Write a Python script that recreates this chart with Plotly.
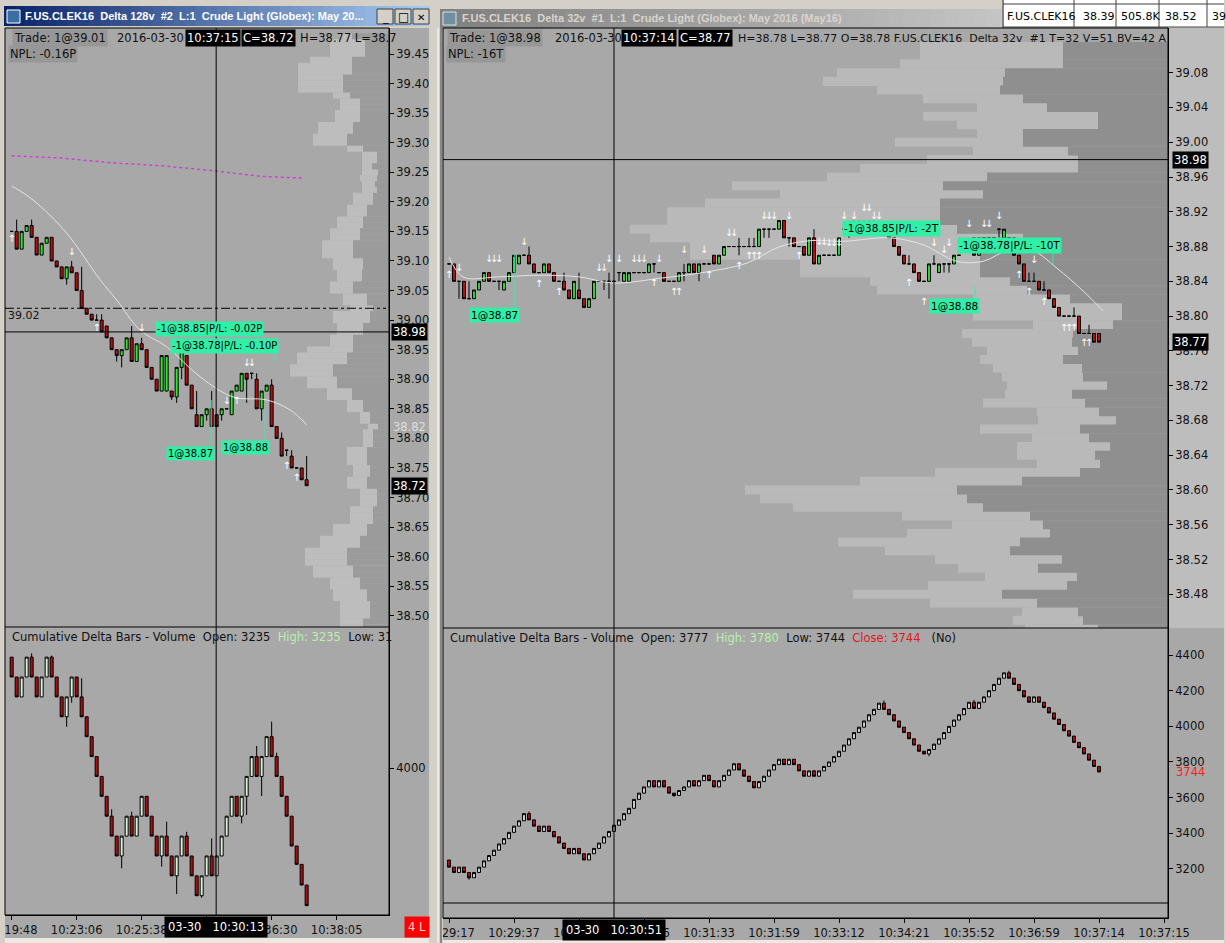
import plotly.graph_objects as go

W, H = 1226, 943
FONT = "DejaVu Sans"
PANEL = "#a8a8a8"
CHROME = "#d4d0c8"
NB = "\u00a0"


def fx(px):
    return px / W


def fy(py):
    return 1 - py / H


# ---------------- left window: F.US.CLEK16 Delta 128v ----------------
l_open = [39.15, 39.15, 39.12, 39.15, 39.16, 39.14, 39.11, 39.13, 39.14, 39.10,
          39.09, 39.07, 39.09, 39.08, 39.05, 39.02, 39.01, 39.00, 39.00, 38.99,
          38.97, 38.95, 38.94, 38.95, 38.97, 38.93, 38.96, 38.95, 38.92, 38.90,
          38.88, 38.88, 38.88, 38.87, 38.92, 38.94, 38.89, 38.84, 38.82, 38.84,
          38.85, 38.84, 38.84, 38.85, 38.84, 38.88, 38.88, 38.91, 38.91, 38.90,
          38.85, 38.88, 38.89, 38.82, 38.80, 38.78, 38.77, 38.75, 38.75, 38.73]
l_high = [39.15, 39.17, 39.15, 39.16, 39.17, 39.14, 39.13, 39.14, 39.14, 39.10,
          39.09, 39.09, 39.10, 39.08, 39.09, 39.02, 39.01, 39.01, 39.01, 38.99,
          38.97, 38.95, 38.95, 38.97, 38.99, 38.96, 38.97, 38.95, 38.92, 38.90,
          38.94, 38.94, 38.88, 38.92, 38.95, 38.94, 38.89, 38.88, 38.84, 38.85,
          38.88, 38.84, 38.85, 38.85, 38.88, 38.89, 38.91, 38.91, 38.91, 38.91,
          38.88, 38.89, 38.90, 38.82, 38.81, 38.78, 38.78, 38.75, 38.75, 38.77]
l_low = [39.15, 39.12, 39.12, 39.15, 39.14, 39.11, 39.11, 39.13, 39.10, 39.09,
         39.07, 39.06, 39.08, 39.05, 39.02, 39.01, 39.00, 39.00, 38.98, 38.97,
         38.95, 38.93, 38.92, 38.95, 38.93, 38.93, 38.95, 38.92, 38.90, 38.88,
         38.88, 38.88, 38.865, 38.86, 38.90, 38.89, 38.85, 38.82, 38.82, 38.83,
         38.82, 38.82, 38.83, 38.85, 38.84, 38.88, 38.88, 38.86, 38.90, 38.85,
         38.83, 38.88, 38.82, 38.80, 38.77, 38.77, 38.75, 38.75, 38.73, 38.72]
l_close = [39.15, 39.12, 39.15, 39.16, 39.14, 39.11, 39.13, 39.14, 39.10, 39.09,
           39.07, 39.09, 39.08, 39.05, 39.02, 39.01, 39.00, 39.00, 38.98, 38.97,
           38.95, 38.94, 38.95, 38.97, 38.93, 38.96, 38.95, 38.92, 38.90, 38.88,
           38.94, 38.94, 38.87, 38.92, 38.95, 38.89, 38.85, 38.82, 38.84, 38.85,
           38.82, 38.82, 38.85, 38.85, 38.88, 38.89, 38.91, 38.90, 38.91, 38.85,
           38.88, 38.89, 38.82, 38.80, 38.77, 38.78, 38.75, 38.75, 38.73, 38.72]

# cumulative delta bars (left)
lcd_open = [4725, 4595, 4465, 4595, 4725, 4595, 4465, 4595, 4725, 4595,
            4465, 4335, 4465, 4595, 4465, 4335, 4205, 4075, 3945, 3815,
            3685, 3555, 3425, 3555, 3685, 3555, 3685, 3815, 3685, 3555,
            3425, 3555, 3425, 3295, 3425, 3555, 3425, 3295, 3165, 3295,
            3425, 3295, 3425, 3555, 3685, 3815, 3685, 3815, 3945, 4075,
            3945, 4075, 4205, 4075, 3945, 3815, 3685, 3490, 3370, 3235]
lcd_close = [4595, 4465, 4595, 4725, 4595, 4465, 4595, 4725, 4595, 4465,
             4335, 4465, 4595, 4465, 4335, 4205, 4075, 3945, 3815, 3685,
             3555, 3425, 3555, 3685, 3555, 3685, 3815, 3685, 3555, 3425,
             3555, 3425, 3295, 3425, 3555, 3425, 3295, 3165, 3295, 3425,
             3295, 3425, 3555, 3685, 3815, 3685, 3815, 3945, 4075, 3945,
             4075, 4205, 4075, 3945, 3815, 3685, 3490, 3370, 3235, 3100]
lcd_wick_hi = {4: 4750, 8: 4735, 14: 4587, 20: 3730, 24: 3714, 31: 3649,
               35: 3583, 40: 3540, 49: 4144, 52: 4303, 53: 4100}
lcd_wick_lo = {11: 4270, 12: 4427, 22: 3344, 30: 3355, 33: 3176, 38: 3152,
               46: 3638, 47: 3693, 50: 3817}

# volume profile (left), rows of 0.01 from 39.48 down
l_prof_top = 39.48
l_prof_light = [12, 35, 35, 35, 42, 54, 54, 45, 45, 45,
                17, 20, 20, 25, 25, 35, 35, 34, 34, 16,
                15, 15, 10, 16, 17, 13, 15, 20, 20, 20,
                20, 26, 26, 30, 30, 31, 31, 31, 30, 30,
                25, 25, 23, 23, 24, 24, 23, 37, 37, 26,
                26, 23, 23, 46, 50, 50, 43, 43, 30, 30,
                25, 25, 16, 16, 10, 10, 10, 10, 10, 10,
                20, 20, 20, 17, 17, 20, 20, 17, 17, 17,
                23, 23, 23, 34, 34, 40, 40, 42, 42, 42,
                40, 40, 30, 30, 34, 34, 30, 30, 30, 23,
                23]
l_prof_dark = [37, 24, 24, 24, 37, 37, 37, 46, 46, 46,
               39, 29, 29, 29, 29, 36, 36, 42, 42, 26,
               12, 12, 17, 11, 12, 14, 12, 16, 16, 22,
               22, 26, 26, 29, 29, 36, 36, 36, 26, 26,
               27, 27, 36, 36, 22, 22, 16, 19, 19, 26,
               26, 36, 36, 36, 42, 42, 56, 56, 52, 52,
               37, 37, 26, 26, 19, 19, 11, 16, 16, 16,
               22, 22, 22, 19, 19, 22, 22, 12, 12, 12,
               16, 16, 16, 22, 22, 29, 29, 42, 42, 42,
               36, 36, 29, 29, 22, 22, 19, 19, 19, 26,
               26]

# moving average and vwap (bar index, price)
l_ma_x = [0, 4.3, 11, 17.7, 21, 25.7, 31, 37.7, 44.3, 51, 55.7, 59]
l_ma_y = [39.227, 39.203, 39.147, 39.068, 39.034, 38.983, 38.955, 38.904, 38.870, 38.865, 38.848, 38.823]
l_vwap_x = [0, 10, 20, 30, 40, 50, 58.5]
l_vwap_y = [39.278, 39.274, 39.266, 39.261, 39.253, 39.243, 39.240]

l_up_x = [0, 17, 45, 55, 57]
l_up_y = [39.136, 38.985, 38.862, 38.752, 38.732]
l_dn_x = [12, 26, 43, 47, 48]
l_dn_y = [39.115, 38.985, 38.862, 38.926, 38.926]

l_fills = ["-1@38.85|P/L: -0.02P", "-1@38.78|P/L: -0.10P", "1@38.87", "1@38.88"]
l_fill_x = [28.7, 31.7, 30.9, 41.9]
l_fill_y = [38.985, 38.956, 38.774, 38.784]

l_time_idx = [0, 13, 26, 39, 52, 65]
l_time_txt = ["10:19:48", "10:23:06", "10:25:38", "10:28:51", "10:36:30", "10:38:05"]
l_cross = (40.9, 38.98)

# ---------------- right window: F.US.CLEK16 Delta 32v ----------------
r_open = [38.86, 38.86, 38.84, 38.84, 38.82, 38.82, 38.83, 38.84, 38.85, 38.84,
          38.84, 38.83, 38.84, 38.85, 38.86, 38.87, 38.87, 38.86, 38.85, 38.85,
          38.86, 38.85, 38.84, 38.84, 38.83, 38.82, 38.83, 38.82, 38.81, 38.82,
          38.84, 38.84, 38.84, 38.84, 38.85, 38.84, 38.84, 38.85, 38.85, 38.85,
          38.85, 38.86, 38.85, 38.85, 38.84, 38.84, 38.84, 38.85, 38.85, 38.86,
          38.85, 38.86, 38.86, 38.87, 38.86, 38.87, 38.88, 38.88, 38.88, 38.88,
          38.88, 38.88, 38.88, 38.90, 38.90, 38.90, 38.90, 38.91, 38.89, 38.89,
          38.88, 38.88, 38.87, 38.89, 38.86, 38.87, 38.87, 38.87, 38.87, 38.90,
          38.90, 38.90, 38.90, 38.90, 38.90, 38.90, 38.90, 38.90, 38.90, 38.89,
          38.88, 38.87, 38.86, 38.86, 38.85, 38.84, 38.84, 38.86, 38.85, 38.86,
          38.86, 38.86, 38.87, 38.88, 38.88, 38.89, 38.87, 38.89, 38.89, 38.89,
          38.90, 38.89, 38.89, 38.89, 38.87, 38.86, 38.84, 38.84, 38.84, 38.83,
          38.83, 38.82, 38.81, 38.80, 38.80, 38.80, 38.80, 38.78, 38.78, 38.78,
          38.78]
r_high = [38.86, 38.86, 38.84, 38.84, 38.84, 38.83, 38.84, 38.85, 38.85, 38.84,
          38.84, 38.84, 38.85, 38.87, 38.87, 38.87, 38.88, 38.86, 38.85, 38.86,
          38.86, 38.85, 38.84, 38.85, 38.83, 38.84, 38.85, 38.82, 38.82, 38.84,
          38.84, 38.84, 38.85, 38.84, 38.85, 38.85, 38.85, 38.85, 38.85, 38.85,
          38.86, 38.86, 38.85, 38.85, 38.84, 38.84, 38.85, 38.86, 38.86, 38.86,
          38.86, 38.86, 38.86, 38.87, 38.87, 38.88, 38.88, 38.88, 38.89, 38.88,
          38.89, 38.89, 38.90, 38.90, 38.90, 38.90, 38.91, 38.91, 38.89, 38.89,
          38.88, 38.88, 38.89, 38.90, 38.87, 38.87, 38.87, 38.87, 38.89, 38.90,
          38.90, 38.91, 38.91, 38.91, 38.91, 38.91, 38.90, 38.90, 38.90, 38.89,
          38.88, 38.87, 38.87, 38.86, 38.85, 38.84, 38.86, 38.87, 38.86, 38.86,
          38.86, 38.87, 38.87, 38.88, 38.88, 38.89, 38.89, 38.89, 38.89, 38.89,
          38.90, 38.90, 38.89, 38.89, 38.87, 38.86, 38.85, 38.85, 38.84, 38.84,
          38.83, 38.82, 38.81, 38.80, 38.80, 38.81, 38.80, 38.78, 38.79, 38.78,
          38.78]
r_low = [38.86, 38.84, 38.82, 38.82, 38.82, 38.82, 38.83, 38.84, 38.84, 38.84,
         38.83, 38.83, 38.84, 38.85, 38.86, 38.87, 38.86, 38.85, 38.85, 38.85,
         38.85, 38.84, 38.84, 38.83, 38.82, 38.82, 38.82, 38.81, 38.81, 38.82,
         38.84, 38.83, 38.82, 38.84, 38.84, 38.84, 38.84, 38.85, 38.85, 38.85,
         38.85, 38.85, 38.85, 38.84, 38.84, 38.84, 38.84, 38.84, 38.85, 38.85,
         38.84, 38.86, 38.86, 38.86, 38.86, 38.87, 38.88, 38.88, 38.87, 38.88,
         38.88, 38.88, 38.88, 38.89, 38.89, 38.90, 38.90, 38.89, 38.88, 38.88,
         38.88, 38.87, 38.87, 38.86, 38.86, 38.87, 38.87, 38.87, 38.87, 38.90,
         38.89, 38.90, 38.90, 38.90, 38.90, 38.90, 38.90, 38.90, 38.89, 38.88,
         38.87, 38.86, 38.86, 38.85, 38.84, 38.84, 38.84, 38.86, 38.85, 38.85,
         38.85, 38.86, 38.87, 38.88, 38.88, 38.87, 38.87, 38.89, 38.89, 38.89,
         38.89, 38.89, 38.89, 38.87, 38.86, 38.84, 38.84, 38.84, 38.83, 38.83,
         38.82, 38.81, 38.80, 38.80, 38.80, 38.80, 38.78, 38.78, 38.78, 38.77,
         38.77]
r_close = [38.86, 38.84, 38.84, 38.82, 38.82, 38.83, 38.84, 38.85, 38.84, 38.84,
           38.84, 38.84, 38.85, 38.87, 38.87, 38.87, 38.86, 38.85, 38.85, 38.86,
           38.85, 38.84, 38.84, 38.83, 38.82, 38.84, 38.82, 38.81, 38.82, 38.84,
           38.84, 38.84, 38.84, 38.84, 38.85, 38.85, 38.85, 38.85, 38.85, 38.85,
           38.86, 38.86, 38.85, 38.84, 38.84, 38.84, 38.85, 38.85, 38.86, 38.85,
           38.86, 38.86, 38.86, 38.86, 38.87, 38.88, 38.88, 38.88, 38.88, 38.88,
           38.88, 38.88, 38.90, 38.90, 38.90, 38.90, 38.91, 38.89, 38.89, 38.88,
           38.88, 38.87, 38.89, 38.86, 38.87, 38.87, 38.87, 38.87, 38.89, 38.90,
           38.90, 38.90, 38.90, 38.90, 38.90, 38.90, 38.90, 38.90, 38.89, 38.88,
           38.87, 38.86, 38.86, 38.85, 38.84, 38.84, 38.86, 38.86, 38.86, 38.86,
           38.86, 38.87, 38.87, 38.88, 38.88, 38.87, 38.89, 38.89, 38.89, 38.89,
           38.90, 38.90, 38.89, 38.87, 38.86, 38.84, 38.84, 38.84, 38.83, 38.83,
           38.82, 38.81, 38.80, 38.80, 38.80, 38.80, 38.78, 38.78, 38.78, 38.77,
           38.77]

rcd_open = [3250, 3210, 3180, 3210, 3180, 3150, 3180, 3210, 3245, 3275,
            3305, 3340, 3370, 3405, 3440, 3470, 3510, 3475, 3440, 3410,
            3440, 3410, 3380, 3345, 3315, 3285, 3315, 3285, 3250, 3285,
            3315, 3345, 3380, 3410, 3445, 3475, 3510, 3540, 3590, 3625,
            3660, 3695, 3660, 3695, 3660, 3625, 3612, 3640, 3660, 3695,
            3665, 3695, 3725, 3695, 3660, 3695, 3725, 3755, 3790, 3755,
            3720, 3690, 3655, 3690, 3720, 3755, 3785, 3815, 3785, 3815,
            3785, 3750, 3720, 3750, 3720, 3750, 3775, 3800, 3830, 3860,
            3895, 3930, 3965, 3995, 4030, 4065, 4095, 4130, 4095, 4065,
            4030, 3995, 3965, 3930, 3895, 3860, 3845, 3870, 3900, 3930,
            3965, 4000, 4035, 4065, 4100, 4135, 4100, 4135, 4165, 4200,
            4235, 4270, 4300, 4270, 4235, 4200, 4165, 4135, 4165, 4135,
            4105, 4075, 4040, 4010, 3975, 3945, 3910, 3880, 3845, 3810,
            3775]
rcd_close = [3210, 3180, 3210, 3180, 3150, 3180, 3210, 3245, 3275, 3305,
             3340, 3370, 3405, 3440, 3470, 3510, 3475, 3440, 3410, 3440,
             3410, 3380, 3345, 3315, 3285, 3315, 3285, 3250, 3285, 3315,
             3345, 3380, 3410, 3445, 3475, 3510, 3540, 3590, 3625, 3660,
             3695, 3660, 3695, 3660, 3625, 3612, 3640, 3660, 3695, 3665,
             3695, 3725, 3695, 3660, 3695, 3725, 3755, 3790, 3755, 3720,
             3690, 3655, 3690, 3720, 3755, 3785, 3815, 3785, 3815, 3785,
             3750, 3720, 3750, 3720, 3750, 3775, 3800, 3830, 3860, 3895,
             3930, 3965, 3995, 4030, 4065, 4095, 4130, 4095, 4065, 4030,
             3995, 3965, 3930, 3895, 3860, 3845, 3870, 3900, 3930, 3965,
             4000, 4035, 4065, 4100, 4135, 4100, 4135, 4165, 4200, 4235,
             4270, 4300, 4270, 4235, 4200, 4165, 4135, 4165, 4135, 4105,
             4075, 4040, 4010, 3975, 3945, 3910, 3880, 3845, 3810, 3775,
             3744]
rcd_wick_hi = {87: 4145, 105: 4148, 112: 4312, 16: 3522}
rcd_wick_lo = {4: 3140, 96: 3832, 45: 3604}

r_prof_top = 39.11
r_prof_light = [143, 143, 163, 168, 180, 123, 100, 70, 175, 141,
                46, 128, 95, 151, 218, 160, 211, 203, 235, 273,
                273, 327, 373, 330, 290, 180, 180, 140, 150, 97,
                149, 149, 80, 111, 100, 91, 83, 89, 81, 100,
                67, 102, 62, 78, 100, 57, 93, 78, 63, 145,
                162, 212, 207, 190, 128, 91, 143, 182, 125, 127,
                80, 92, 139, 149, 107, 56, 70, 73]
r_prof_dark = [105, 105, 105, 163, 165, 168, 145, 121, 70, 70,
               145, 145, 100, 90, 90, 181, 225, 185, 228, 228,
               228, 211, 145, 148, 188, 188, 188, 158, 141, 98,
               46, 46, 55, 95, 96, 90, 105, 86, 85, 61,
               96, 83, 69, 52, 88, 79, 58, 73, 68, 88,
               146, 211, 201, 185, 138, 125, 118, 148, 158, 106,
               130, 91, 101, 166, 131, 90, 85, 70]

r_ma_x = [0, 2.8, 9.6, 18.2, 26.2, 32.8, 42.8, 49.6, 59.6, 66.2, 72.8, 78.8,
          88.2, 94.8, 101.6, 106.8, 111.6, 116.8, 121.6, 126.8, 130.8]
r_ma_y = [38.868, 38.845, 38.845, 38.847, 38.845, 38.838, 38.844, 38.849, 38.861, 38.880,
          38.887, 38.886, 38.890, 38.882, 38.863, 38.863, 38.875, 38.875, 38.855, 38.829, 38.806]

r_up_x = [0, 18, 22, 41, 45, 46, 52, 58, 60, 61, 62, 70, 92, 95, 114, 116, 119, 123, 124, 125, 127, 128]
r_up_y = [38.847, 38.836, 38.827, 38.837, 38.827, 38.827, 38.847, 38.857, 38.868, 38.868, 38.868,
          38.868, 38.837, 38.816, 38.847, 38.827, 38.816, 38.786, 38.786, 38.786, 38.768, 38.768]
r_dn_x = [2, 8, 9, 10, 15, 30, 31, 32, 34, 37, 38, 39, 42, 47, 51, 56, 57, 63, 64, 65, 68,
          74, 75, 76, 77, 78, 79, 81, 83, 84, 85, 86, 97, 99, 100, 104, 107, 108, 110, 117]
r_dn_y = [38.855, 38.865, 38.865, 38.865, 38.885, 38.855, 38.855, 38.865, 38.865, 38.865, 38.865,
          38.865, 38.865, 38.876, 38.876, 38.895, 38.895, 38.914, 38.914, 38.914, 38.914,
          38.885, 38.885, 38.884, 38.884, 38.884, 38.914, 38.914, 38.924, 38.924, 38.914,
          38.914, 38.884, 38.875, 38.884, 38.905, 38.905, 38.905, 38.914, 38.864]

r_fills = ["1@38.87", "-1@38.85|P/L: -2T", "1@38.88", "-1@38.78|P/L: -10T"]
r_fill_x = [4.0, 78.6, 96.0, 101.6]
r_fill_y = [38.801, 38.901, 38.812, 38.881]

r_time_idx = [0, 13, 26, 39, 52, 65, 78, 91, 104, 117, 130, 143]
r_time_txt = ["10:29:17", "10:29:37", "10:30:18", "10:31:06", "10:31:33", "10:31:59",
              "10:33:12", "10:34:21", "10:35:52", "10:36:59", "10:37:14", "10:37:15"]
r_cross = (33.0, 38.98)

# ---------------- derived ----------------
l_idx = list(range(len(l_close)))
r_idx = list(range(len(r_close)))
l_prof_px = [round(l_prof_top - 0.01 * i, 2) for i in range(len(l_prof_light))]
r_prof_px = [round(r_prof_top - 0.01 * i, 2) for i in range(len(r_prof_light))]
lcd_high = [max(o, c, lcd_wick_hi.get(i, 0)) for i, (o, c) in enumerate(zip(lcd_open, lcd_close))]
lcd_low = [min(o, c, lcd_wick_lo.get(i, 99999)) for i, (o, c) in enumerate(zip(lcd_open, lcd_close))]
rcd_high = [max(o, c, rcd_wick_hi.get(i, 0)) for i, (o, c) in enumerate(zip(rcd_open, rcd_close))]
rcd_low = [min(o, c, rcd_wick_lo.get(i, 99999)) for i, (o, c) in enumerate(zip(rcd_open, rcd_close))]

fig = go.Figure()


def prof(px, dark, light, xa, ya, cdark, clight):
    # light part stacked left of the dark part: draw the total first, dark on top
    total = [d + l for d, l in zip(dark, light)]
    fig.add_trace(go.Bar(x=total, y=px, orientation="h", width=0.0104, xaxis=xa, yaxis=ya,
                         marker=dict(color=clight, line=dict(width=0)), hoverinfo="skip"))
    fig.add_trace(go.Bar(x=dark, y=px, orientation="h", width=0.0104, xaxis=xa, yaxis=ya,
                         marker=dict(color=cdark, line=dict(width=0)), hoverinfo="skip"))


def candles(x, o, h, lo, c, xa, ya, up, down):
    fig.add_trace(go.Candlestick(x=x, open=o, high=h, low=lo, close=c, xaxis=xa, yaxis=ya,
                                 increasing=dict(line=dict(color="#000", width=1), fillcolor=up),
                                 decreasing=dict(line=dict(color="#000", width=1), fillcolor=down),
                                 whiskerwidth=0, hoverinfo="skip"))


def arrows(x, y, glyph, xa, ya):
    fig.add_trace(go.Scatter(x=x, y=y, mode="text", text=[glyph] * len(x), xaxis=xa, yaxis=ya,
                             textfont=dict(family=FONT, size=10, color="white"), hoverinfo="skip"))


# left window
prof(l_prof_px, l_prof_dark, l_prof_light, "x", "y", "#9b9b9b", "#bdbdbd")
fig.add_trace(go.Scatter(x=l_vwap_x, y=l_vwap_y, mode="lines", xaxis="x2", yaxis="y",
                         line=dict(color="#d040d0", width=1.5, dash="dot"), hoverinfo="skip"))
fig.add_trace(go.Scatter(x=l_ma_x, y=l_ma_y, mode="lines", xaxis="x2", yaxis="y",
                         line=dict(color="#e4e4e4", width=1, shape="spline"), hoverinfo="skip"))
candles(l_idx, l_open, l_high, l_low, l_close, "x2", "y", "#2ee82e", "#b01010")
arrows(l_up_x, l_up_y, "↑", "x2", "y")
arrows(l_dn_x, l_dn_y, "↓", "x2", "y")
candles(l_idx, lcd_open, lcd_high, lcd_low, lcd_close, "x5", "y3", "#dcf2d8", "#a81010")

# right window
prof(r_prof_px, r_prof_dark, r_prof_light, "x3", "y2", "#8f8f8f", "#b9b9b9")
fig.add_trace(go.Scatter(x=r_ma_x, y=r_ma_y, mode="lines", xaxis="x4", yaxis="y2",
                         line=dict(color="#e4e4e4", width=1, shape="spline"), hoverinfo="skip"))
candles(r_idx, r_open, r_high, r_low, r_close, "x4", "y2", "#2ed42e", "#b01010")
arrows(r_up_x, r_up_y, "↑", "x4", "y2")
arrows(r_dn_x, r_dn_y, "↓", "x4", "y2")
candles(r_idx, rcd_open, rcd_high, rcd_low, rcd_close, "x6", "y4", "#cccccc", "#a81010")

# ---------------- axes ----------------
LX = [fx(5), fx(389)]
RX = [fx(443), fx(1168)]
tickfont = dict(family=FONT, size=11.5, color="#111")
hidden = dict(showgrid=False, zeroline=False, showticklabels=False, ticks="", showline=False,
              automargin=False)
yst = dict(showgrid=False, zeroline=False, ticks="outside", ticklen=4, tickcolor="#000",
           showline=True, linecolor="#000", linewidth=1, tickfont=tickfont, side="right",
           automargin=False, ticklabeloverflow="allow")
xst = dict(showgrid=False, zeroline=False, ticks="outside", ticklen=4, tickcolor="#000",
           showline=True, linecolor="#000", linewidth=1, tickfont=tickfont,
           rangeslider=dict(visible=False), automargin=False, ticklabeloverflow="allow")
l_xr = [-1.333, 75.47]
r_xr = [-1.2, 143.8]
l_pticks = [round(38.50 + 0.05 * i, 2) for i in range(20)]
r_pticks = [round(38.44 + 0.04 * i, 2) for i in range(17)]

layout_axes = dict(
    xaxis=dict(domain=LX, range=[384, 0], anchor="y", **hidden),
    xaxis2=dict(domain=LX, range=l_xr, anchor="y", overlaying="x",
                rangeslider=dict(visible=False), **hidden),
    yaxis=dict(domain=[fy(627), fy(28)], range=[38.481, 39.494], anchor="x",
               tickvals=l_pticks, tickformat=".2f", **yst),
    xaxis3=dict(domain=RX, range=[725, 0], anchor="y2", **hidden),
    xaxis4=dict(domain=RX, range=r_xr, anchor="y2", overlaying="x3",
                rangeslider=dict(visible=False), **hidden),
    yaxis2=dict(domain=[fy(628), fy(28)], range=[38.4412, 39.1314], anchor="x3",
                tickvals=r_pticks, tickformat=".2f", **yst),
    xaxis5=dict(domain=LX, range=l_xr, anchor="y3", tickvals=l_time_idx, ticktext=l_time_txt, **xst),
    yaxis3=dict(domain=[fy(915), fy(627)], range=[3039, 4922], anchor="x5", tickvals=[4000], **yst),
    xaxis6=dict(domain=RX, range=r_xr, anchor="y4", tickvals=r_time_idx, ticktext=r_time_txt, **xst),
    yaxis4=dict(domain=[fy(918), fy(628)], range=[2924.6, 4551.5], anchor="x6",
                tickvals=[3200, 3400, 3600, 3800, 4000, 4200, 4400], **yst),
)

# ---------------- chrome, borders, labels ----------------
shapes = []
ann = []


def rect(x0, y0, x1, y1, fill, layer="below", lc=None):
    shapes.append(dict(type="rect", xref="paper", yref="paper", x0=fx(x0), x1=fx(x1),
                       y0=fy(y1), y1=fy(y0), fillcolor=fill, layer=layer,
                       line=dict(width=1 if lc else 0, color=lc or fill)))


def pline(x0, y0, x1, y1, color="#000", width=1, layer="above", dash=None):
    shapes.append(dict(type="line", xref="paper", yref="paper", x0=fx(x0), x1=fx(x1),
                       y0=fy(y0), y1=fy(y1), layer=layer,
                       line=dict(color=color, width=width, dash=dash or "solid")))


def label(px, py, text, color="#111", bg=None, size=11.5, anchor="left", family=FONT, pad=1):
    ann.append(dict(xref="paper", yref="paper", x=fx(px), y=fy(py), xanchor=anchor, yanchor="middle",
                    text=text, showarrow=False, bgcolor=bg or "rgba(0,0,0,0)", borderpad=pad,
                    font=dict(family=family, size=size, color=color)))


def gradient(x0, x1, y0, y1, c0, c1, n=40):
    for i in range(n):
        t = i / (n - 1)
        col = "rgb(%d,%d,%d)" % tuple(round(a + (b - a) * t) for a, b in zip(c0, c1))
        rect(x0 + (x1 - x0) * i / n, y0, x0 + (x1 - x0) * (i + 1) / n + 0.6, y1, col)


# axis strips
rect(389, 28, 429, 938, PANEL)
rect(5, 915, 429, 938, PANEL)
rect(1168, 28, 1224, 628, "#bdbdbd")
rect(1168, 628, 1224, 940, PANEL)
rect(443, 918, 1168, 940, PANEL)
rect(5, 938, 429, 943, "#ece9e2")
rect(443, 940, 1224, 943, "#ece9e2")

# title bars
gradient(4, 429, 6, 26, (10, 36, 106), (166, 202, 240))
gradient(440, 1001, 9, 28, (128, 128, 128), (196, 196, 196))
rect(7, 10, 20, 23, "#3a6ea5", lc="#ffffff")
rect(443, 12, 456, 25, "#6f8fa5", lc="#e0e0e0")
for bx in (377, 395, 413):
    rect(bx, 9, bx + 16, 24, CHROME, lc="#404040")
label(385, 17, "_", color="#000", size=11, anchor="center")
label(403, 17, "□", color="#000", size=12, anchor="center")
label(421, 17, "<b>✕</b>", color="#000", size=10, anchor="center")
label(23, 16, "<b>F.US.CLEK16" + NB * 2 + "Delta 128v" + NB * 2 + "#2" + NB * 2 + "L:1" + NB * 2
      + "Crude Light (Globex): May 20...</b>", color="#ffffff", size=11, family="Liberation Sans")
label(460, 18, "<b>F.US.CLEK16" + NB * 2 + "Delta 32v" + NB * 2 + "#1" + NB * 2 + "L:1" + NB * 2
      + "Crude Light (Globex): May 2016 (May16)</b>", color="#d8d4cc", size=11, family="Liberation Sans")

# quote table (top right)
rect(1003, 0, 1226, 27, "#ffffff")
pline(1003, 0, 1003, 28, "#808080", 2)
pline(1003, 4, 1226, 4, "#404040")
pline(1003, 27, 1226, 27, "#404040")
for vx in (1074, 1116, 1159, 1207):
    pline(vx, 0, vx, 27, "#404040")
for tx, tt in ((1005, "F.US.CLEK16"), (1081, "38.39"), (1119, "505.8K"), (1163, "38.52"), (1210, "39")):
    label(tx, 16, tt, color="#000", size=11)

# window frames drawn over any overflowing tick label
rect(0, 28, 5, 943, CHROME, layer="above")
rect(429, 28, 443, 943, CHROME, layer="above")
pline(438, 28, 438, 943, "#ffffff")
pline(441, 28, 441, 943, "#404040")
rect(1224, 0, 1226, 943, CHROME, layer="above")

# panel borders
rect(5, 28, 389, 915, "rgba(0,0,0,0)", layer="above", lc="#000")
pline(5, 627, 389, 627)
rect(443, 28, 1168, 918, "rgba(0,0,0,0)", layer="above", lc="#000")
pline(443, 628, 1168, 628)
pline(443, 903, 1168, 903)

# crosshairs
shapes.append(dict(type="line", xref="x2", yref="paper", x0=l_cross[0], x1=l_cross[0],
                   y0=fy(915), y1=fy(28), line=dict(color="#000", width=1), layer="above"))
shapes.append(dict(type="line", xref="paper", yref="y", x0=fx(5), x1=fx(389),
                   y0=l_cross[1], y1=l_cross[1], line=dict(color="#000", width=1), layer="above"))
shapes.append(dict(type="line", xref="x4", yref="paper", x0=r_cross[0], x1=r_cross[0],
                   y0=fy(918), y1=fy(28), line=dict(color="#000", width=1), layer="above"))
shapes.append(dict(type="line", xref="paper", yref="y2", x0=fx(443), x1=fx(1168),
                   y0=r_cross[1], y1=r_cross[1], line=dict(color="#000", width=1), layer="above"))

# 39.02 level line
shapes.append(dict(type="line", xref="paper", yref="y", x0=fx(5), x1=fx(386), y0=39.02, y1=39.02,
                   line=dict(color="#000", width=1, dash="dashdot"), layer="above"))
ann.append(dict(xref="paper", yref="y", x=fx(6), y=39.02, yshift=-7, xanchor="left", yanchor="middle",
                text="39.02", showarrow=False, font=dict(family=FONT, size=11, color="#111")))

# fill connector lines
MINT = "#30f0a8"
for xa, ya, x0, y0, y1 in (("x2", "y", 39.9, 38.78, 38.865), ("x2", "y", 50.7, 38.79, 38.85),
                           ("x2", "y", 52.7, 38.95, 38.93), ("x4", "y2", 13.2, 38.81, 38.873),
                           ("x4", "y2", 105.2, 38.818, 38.834), ("x4", "y2", 120.8, 38.875, 38.86)):
    shapes.append(dict(type="line", xref=xa, yref=ya, x0=x0, x1=x0, y0=y0, y1=y1,
                       line=dict(color=MINT, width=1), layer="above"))

# trade fill labels
for txt, xv, yv in zip(l_fills, l_fill_x, l_fill_y):
    ann.append(dict(xref="x2", yref="y", x=xv, y=yv, xanchor="left", yanchor="middle", text=txt,
                    showarrow=False, bgcolor=MINT, borderpad=1,
                    font=dict(family=FONT, size=10, color="#000")))
for txt, xv, yv in zip(r_fills, r_fill_x, r_fill_y):
    ann.append(dict(xref="x4", yref="y2", x=xv, y=yv, xanchor="left", yanchor="middle", text=txt,
                    showarrow=False, bgcolor=MINT, borderpad=1,
                    font=dict(family=FONT, size=10.5, color="#000")))

# header lines
HB = "#979797"
label(12, 38, "Trade: 1@39.01", bg=HB)
label(115, 38, "2016-03-30")
label(185, 38, "10:37:15", color="#fff", bg="#000")
label(241, 38, "C=38.72", color="#fff", bg="#000")
label(298, 38, "H=38.77 L=38.7")
label(8, 54, "NPL: -0.16P", bg=HB)
label(447, 38, "Trade: 1@38.98", bg=HB)
label(553, 38, "2016-03-30")
label(621, 38, "10:37:14", color="#fff", bg="#000")
label(678, 38, "C=38.77", color="#fff", bg="#000")
label(736, 38, "H=38.78 L=38.77 O=38.78 F.US.CLEK16" + NB * 2 + "Delta 32v" + NB * 2 + "#1 T=32 V=51 BV=42 A",
      size=11)
label(446, 54, "NPL: -16T", bg=HB)

label(10, 637, "Cumulative Delta Bars - Volume" + NB * 2 + "Open: 3235" + NB * 2
      + "<span style='color:#b8f0ac'>High: 3235</span>" + NB * 2 + "Low: 31")
label(448, 638, "Cumulative Delta Bars - Volume" + NB * 2 + "Open: 3777" + NB * 2
      + "<span style='color:#b8f0ac'>High: 3780</span>" + NB * 2 + "Low: 3744" + NB * 2
      + "<span style='color:#e01818'>Close: 3744</span>" + NB * 3 + "(No)")

# price-axis markers
for yv, txt, fg, bg in ((38.98, "38.98", "#fff", "#000"), (38.72, "38.72", "#fff", "#000"),
                        (38.82, "38.82", "#dedede", None)):
    ann.append(dict(xref="paper", yref="y", x=fx(391), y=yv, xanchor="left", yanchor="middle",
                    text=txt, showarrow=False, bgcolor=bg or "rgba(0,0,0,0)", borderpad=1,
                    font=dict(family=FONT, size=11.5, color=fg)))
for yv, txt in ((38.98, "38.98"), (38.77, "38.77")):
    ann.append(dict(xref="paper", yref="y2", x=fx(1172), y=yv, xanchor="left", yanchor="middle",
                    text=txt, showarrow=False, bgcolor="#000", borderpad=1,
                    font=dict(family=FONT, size=11.5, color="#fff")))
ann.append(dict(xref="paper", yref="y4", x=fx(1174), y=3744, xanchor="left", yanchor="middle",
                text="3744", showarrow=False, font=dict(family=FONT, size=11.5, color="#ff1a1a")))

# crosshair time boxes and position flag
ann.append(dict(xref="x2", yref="paper", x=l_cross[0], y=fy(927), xanchor="center", yanchor="middle",
                text="03-30" + NB * 3 + "10:30:13", showarrow=False, bgcolor="#000", borderpad=3,
                font=dict(family=FONT, size=11.5, color="#fff")))
ann.append(dict(xref="x4", yref="paper", x=r_cross[0], y=fy(930), xanchor="center", yanchor="middle",
                text="03-30" + NB * 3 + "10:30:51", showarrow=False, bgcolor="#000", borderpad=3,
                font=dict(family=FONT, size=11.5, color="#fff")))
label(417, 927, "4 L", color="#ffd0d0", bg="#ff0000", size=11.5, anchor="center", pad=3)

fig.update_layout(
    template="none",
    width=W, height=H, margin=dict(l=0, r=0, t=0, b=0, pad=0), autosize=False,
    paper_bgcolor=CHROME, plot_bgcolor=PANEL,
    showlegend=False, hovermode=False, barmode="overlay",
    boxgap=0.4, boxgroupgap=0,
    shapes=shapes, annotations=ann,
    **layout_axes,
)

fig.write_html("out.html", config={"displayModeBar": False},
               post_script="document.body.style.margin='0';document.body.style.overflow='hidden';")
